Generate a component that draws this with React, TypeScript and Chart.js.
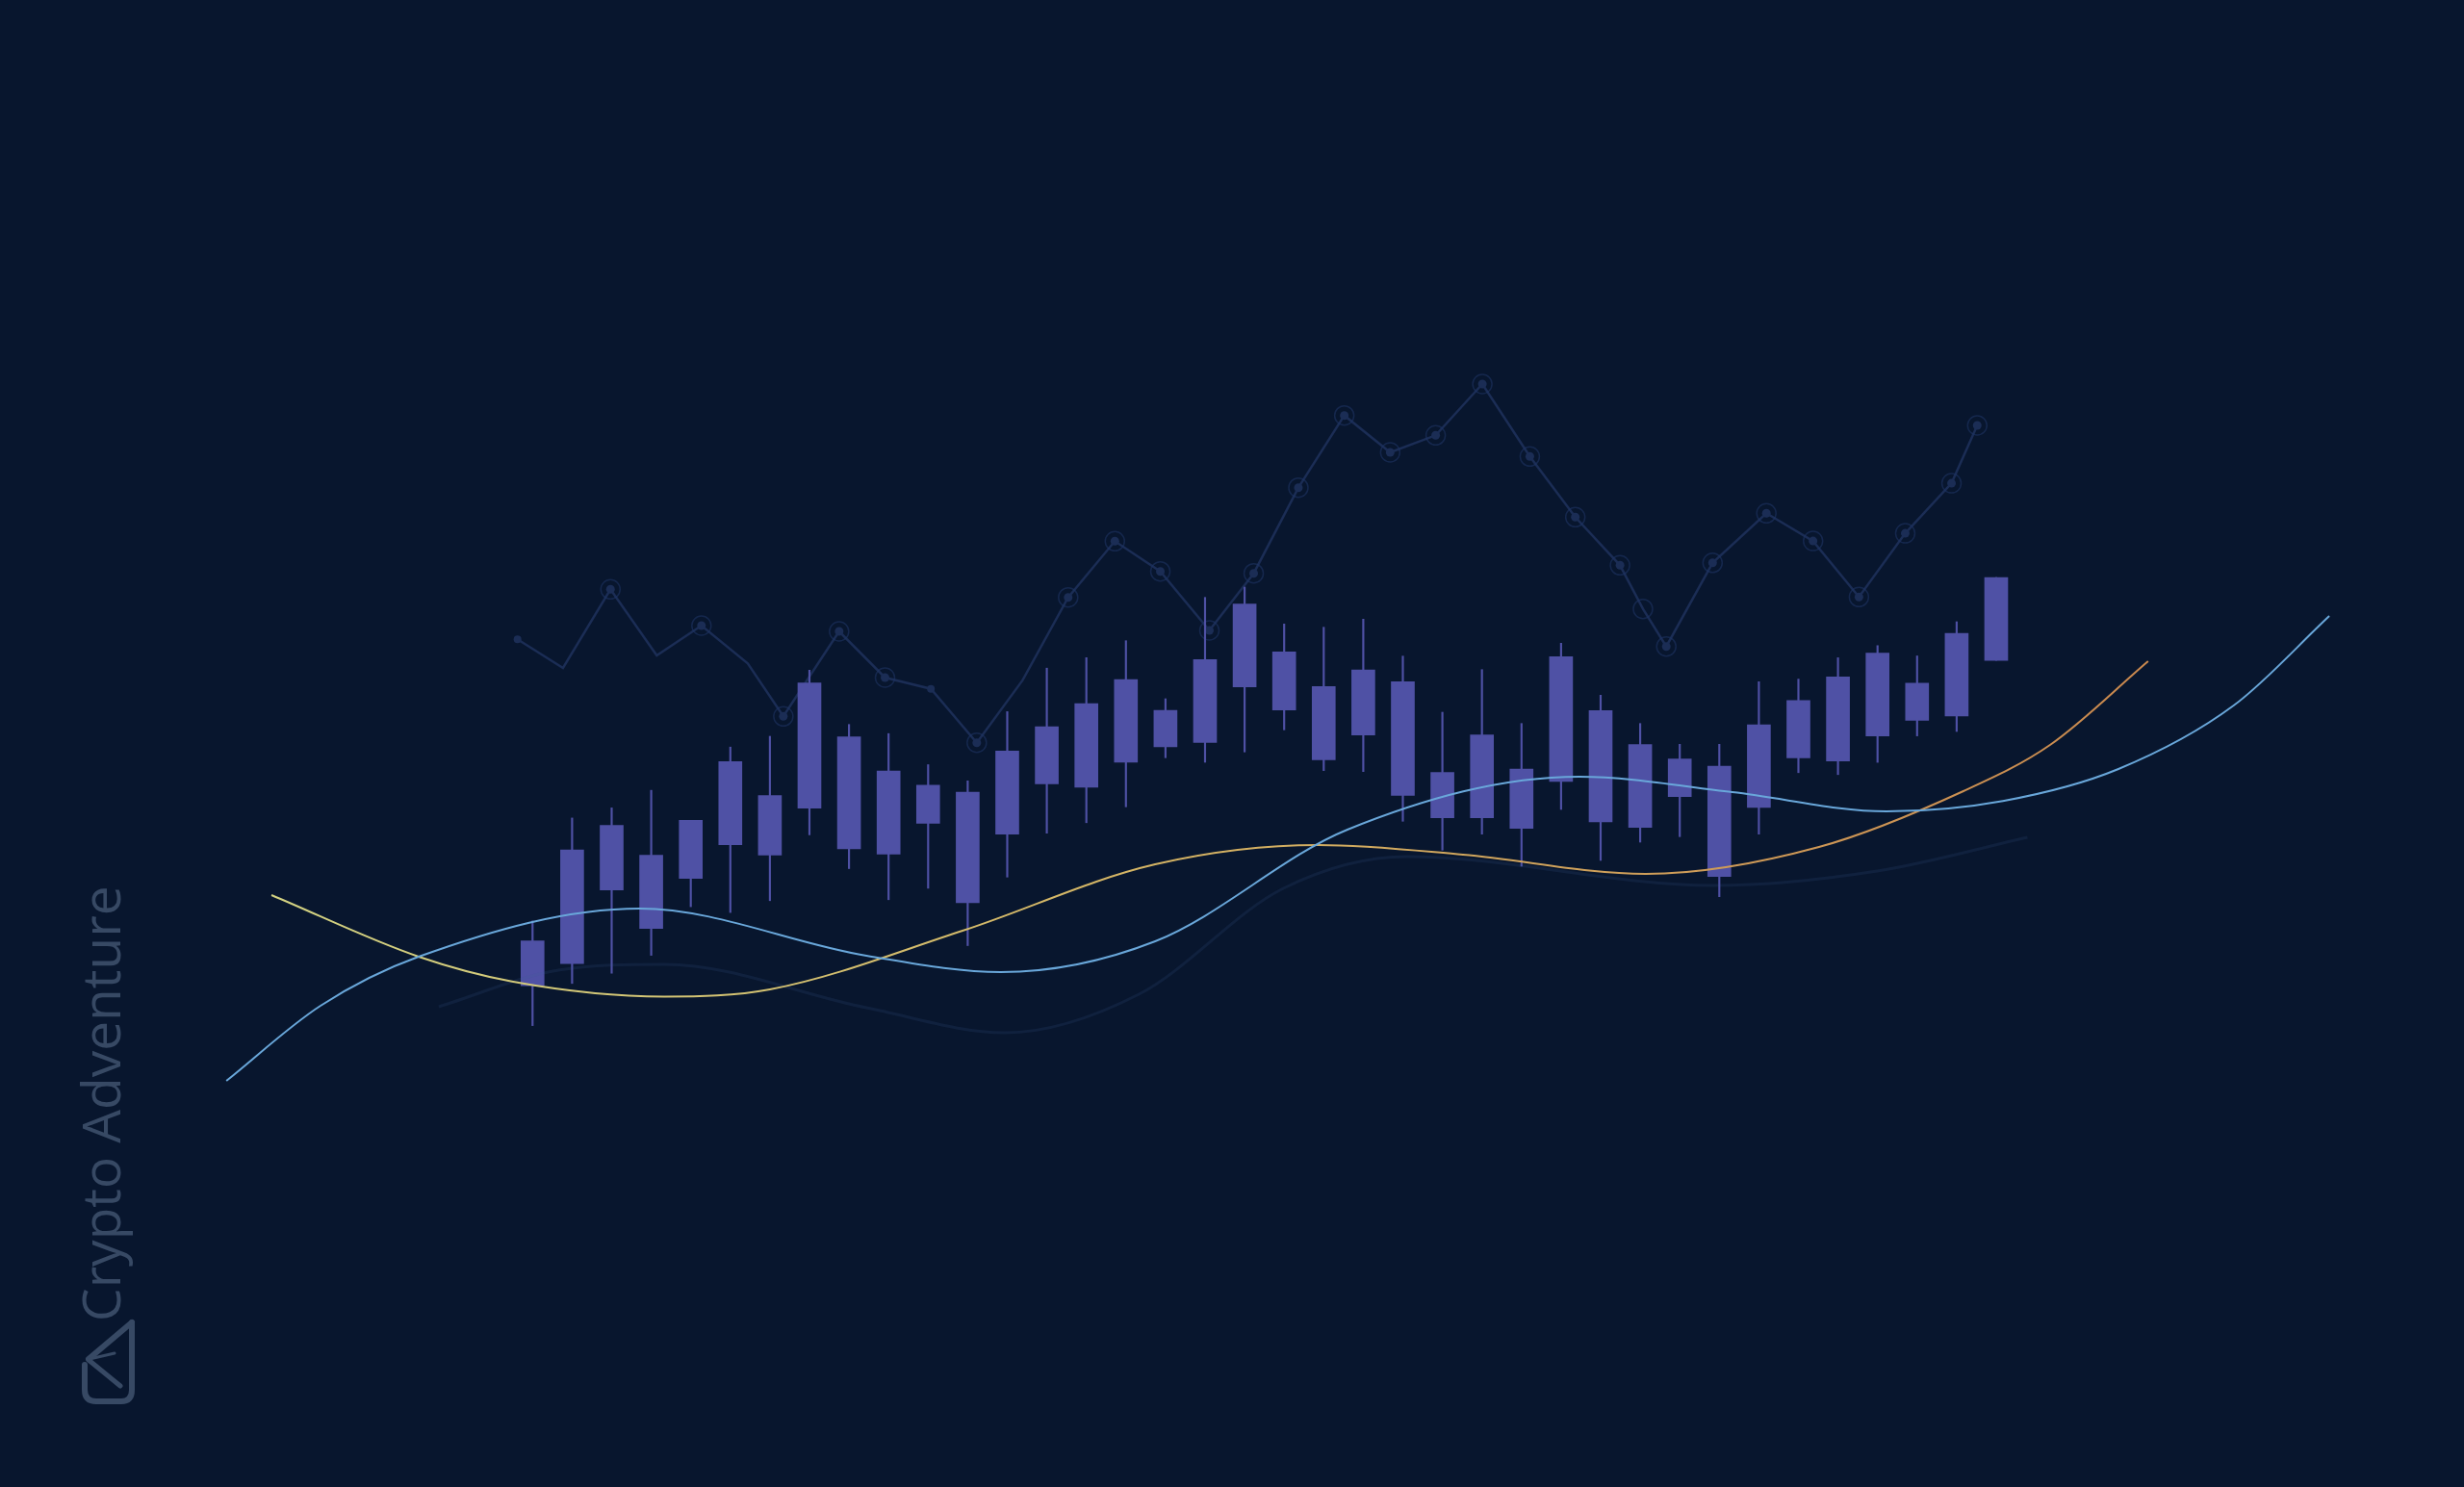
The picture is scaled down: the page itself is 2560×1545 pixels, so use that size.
import React, { useEffect, useRef } from 'react';
import { Chart, registerables } from 'chart.js';

Chart.register(...registerables);

// ---------- data ----------
// candle positions (trading-day index)
const days = [0, 1, 2, 3, 4, 5, 6, 7, 8, 9, 10, 11, 12, 13, 14, 15, 16, 17, 18, 19, 20, 21, 22, 23, 24, 25, 26, 27, 28, 29, 30, 31, 32, 33, 34, 35, 36, 37];
const opens = [52.08, 54.39, 62.04, 58.04, 63.23, 66.74, 65.65, 70.53, 66.32, 65.76, 68.95, 60.71, 67.83, 73.05, 72.7, 75.3, 76.9, 77.37, 83.13, 80.73, 75.57, 78.13, 71.87, 69.53, 69.53, 68.43, 73.3, 69.1, 68.53, 71.73, 63.43, 70.6, 75.75, 75.44, 78.04, 79.65, 80.11, 85.89];
const closes = [56.74, 66.18, 68.74, 65.65, 69.27, 75.37, 71.83, 83.54, 77.93, 74.39, 72.91, 72.18, 76.46, 78.98, 81.4, 83.89, 80.7, 85.97, 91.73, 86.77, 83.17, 84.9, 83.67, 74.23, 78.13, 74.6, 86.27, 80.67, 77.13, 75.63, 74.9, 79.2, 81.72, 84.17, 86.65, 83.51, 88.68, 94.5];
const highs = [58.81, 69.51, 70.56, 72.39, 69.27, 76.88, 78.0, 84.87, 79.23, 78.28, 75.05, 73.37, 80.56, 85.08, 86.17, 87.93, 81.9, 92.43, 93.5, 89.67, 89.33, 90.17, 86.33, 80.5, 84.93, 79.33, 87.67, 82.27, 79.33, 77.17, 77.17, 83.67, 83.94, 86.16, 87.42, 86.35, 89.9, 94.5];
const lows = [47.94, 52.32, 53.38, 55.24, 60.29, 59.69, 60.92, 67.76, 64.25, 61.02, 62.21, 56.25, 63.37, 67.93, 69.02, 70.67, 75.77, 75.3, 76.37, 78.67, 74.43, 74.33, 69.17, 66.17, 67.83, 64.5, 70.4, 65.1, 67.0, 67.57, 61.33, 67.83, 74.22, 74.02, 75.29, 78.04, 78.5, 85.89];

// dark trend line with markers
const trendX = [-0.38, 0.77, 1.97, 3.14, 4.27, 5.44, 6.34, 7.75, 8.91, 10.07, 11.23, 12.39, 13.54, 14.72, 15.87, 17.11, 18.23, 19.36, 20.52, 21.68, 22.83, 24.01, 25.21, 26.36, 27.49, 28.07, 28.66, 29.83, 31.19, 32.37, 33.53, 34.7, 35.87, 36.52];
const trendY = [88.07, 85.1, 93.27, 86.4, 89.5, 85.57, 80.07, 88.9, 84.1, 82.93, 77.33, 83.83, 92.43, 98.27, 95.13, 89.0, 94.93, 103.83, 111.33, 107.5, 109.27, 114.6, 107.07, 100.77, 95.77, 91.23, 87.33, 96.02, 101.17, 98.29, 92.47, 99.09, 104.29, 110.3];
// r = dot + ring, d = dot only, n = plain vertex, e = empty ring
const trendMarker = ['d', 'n', 'r', 'n', 'r', 'n', 'r', 'r', 'r', 'd', 'r', 'n', 'r', 'r', 'r', 'r', 'r', 'r', 'r', 'r', 'r', 'r', 'r', 'r', 'r', 'e', 'r', 'r', 'r', 'r', 'r', 'r', 'r', 'r'];

// moving-average style curves
const yellowX = [-6.6, -2.88, -0.49, 3.33, 6.0, 10.87, 15.74, 19.87, 23.52, 28.14, 32.52, 36.17, 38.36, 40.84];
const yellowY = [61.5, 55.1, 52.5, 50.95, 51.7, 57.8, 64.7, 66.7, 65.7, 63.7, 66.5, 72.3, 77.1, 85.8];
const blueX = [-7.74, -5.36, -2.88, 2.71, 8.44, 11.84, 15.74, 20.6, 26.46, 30.33, 34.23, 37.17, 40.09, 43.01, 45.42];
const blueY = [42.2, 50.0, 55.1, 60.1, 55.2, 53.5, 56.7, 68.3, 73.8, 72.2, 70.2, 71.28, 74.6, 81.22, 90.5];
const faintX = [-2.37, 0.65, 3.33, 8.44, 11.94, 15.33, 18.98, 22.11, 29.85, 33.99, 37.79];
const faintY = [49.9, 53.7, 54.3, 49.8, 47.2, 51.2, 62.2, 65.5, 62.5, 64.0, 67.5];

// ---------- view ----------
const X_MIN = -13.462;
const X_MAX = 48.825;
const Y_MIN = 0;
const Y_MAX = 154.5;

const BG = '#08162e';
const CANDLE = '#4f51a5';
const TREND = '#1b2d55';

const pts = (xs: number[], ys: number[]) => xs.map((x, i) => ({ x, y: ys[i] }));

export default function App() {
  const canvasRef = useRef<HTMLCanvasElement | null>(null);

  useEffect(() => {
    document.body.style.margin = '0';
    document.body.style.background = BG;
    const canvas = canvasRef.current;
    if (!canvas) return;

    const yellowGradient = (c: any) => {
      const chart = c.chart;
      const xs = chart.scales && chart.scales.x;
      if (!chart.chartArea || !xs) return '#cfb466';
      const x0 = xs.getPixelForValue(yellowX[0]);
      const x1 = xs.getPixelForValue(yellowX[yellowX.length - 1]);
      const g = chart.ctx.createLinearGradient(x0, 0, x1, 0);
      g.addColorStop(0, '#d2d282');
      g.addColorStop(0.45, '#d4b565');
      g.addColorStop(1, '#c9884e');
      return g;
    };

    const chart = new Chart(canvas, {
      type: 'bar',
      data: {
        datasets: [
          {
            type: 'line',
            data: pts(trendX, trendY),
            borderColor: TREND,
            borderWidth: 2.5,
            tension: 0,
            pointRadius: trendMarker.map((m) => (m === 'r' ? 4.5 : m === 'd' ? 4 : 0)),
            pointBackgroundColor: TREND,
            pointBorderWidth: 0,
            order: 10,
          } as any,
          {
            type: 'line',
            data: pts(trendX, trendY),
            showLine: false,
            pointRadius: trendMarker.map((m) => (m === 'r' || m === 'e' ? 10 : 0)),
            pointBackgroundColor: 'rgba(0,0,0,0)',
            pointBorderColor: 'rgba(30,52,98,0.6)',
            pointBorderWidth: 1.5,
            order: 9,
          } as any,
          {
            type: 'bar',
            data: days.map((d, i) => ({ x: d, y: [lows[i], highs[i]] })),
            backgroundColor: CANDLE,
            barThickness: 1.5,
            grouped: false,
            borderWidth: 0,
            order: 8,
          } as any,
          {
            type: 'bar',
            data: days.map((d, i) => ({ x: d, y: [opens[i], closes[i]] })),
            backgroundColor: CANDLE,
            barThickness: 24,
            grouped: false,
            borderWidth: 0,
            order: 7,
          } as any,
          {
            type: 'line',
            data: pts(faintX, faintY),
            borderColor: 'rgba(62,92,150,0.16)',
            borderWidth: 3,
            cubicInterpolationMode: 'monotone',
            pointRadius: 0,
            order: 3,
          } as any,
          {
            type: 'line',
            data: pts(yellowX, yellowY),
            borderColor: yellowGradient,
            borderWidth: 2,
            cubicInterpolationMode: 'monotone',
            pointRadius: 0,
            order: 2,
          } as any,
          {
            type: 'line',
            data: pts(blueX, blueY),
            borderColor: '#69a7da',
            borderWidth: 2,
            cubicInterpolationMode: 'monotone',
            pointRadius: 0,
            order: 1,
          } as any,
        ],
      },
      options: {
        animation: false,
        responsive: false,
        devicePixelRatio: 1,
        events: [],
        layout: { padding: 0, autoPadding: false },
        plugins: { legend: { display: false }, tooltip: { enabled: false } },
        scales: {
          x: { type: 'linear', min: X_MIN, max: X_MAX, display: false, offset: false },
          y: { type: 'linear', min: Y_MIN, max: Y_MAX, display: false },
        },
      } as any,
    });
    return () => chart.destroy();
  }, []);

  return (
    <div style={{ position: 'fixed', left: 0, top: 0, width: 2560, height: 1545, background: BG, overflow: 'hidden' }}>
      <canvas ref={canvasRef} width={2560} height={1545} style={{ position: 'absolute', left: 0, top: 0, width: 2560, height: 1545 }} />
      <div
        style={{
          position: 'absolute',
          left: 76,
          top: 1373,
          transform: 'rotate(-90deg)',
          transformOrigin: '0 0',
          fontFamily: '"Open Sans", sans-serif',
          fontSize: 55,
          lineHeight: '56px',
          color: '#374964',
          whiteSpace: 'nowrap',
        }}
      >
        Crypto Adventure
      </div>
      <svg style={{ position: 'absolute', left: 83, top: 1370 }} width={60} height={92} viewBox="0 0 60 92">
        <g fill="none" stroke="#374964" strokeLinecap="round" strokeLinejoin="round">
          <path d="M5 48 L5 74 Q5 86 17 86 L43 86 Q54 86 54 74 L54 4" strokeWidth={6} />
          <path d="M54 4 L9 42" strokeWidth={6} />
          <path d="M9 43 L42 70" strokeWidth={5} />
          <path d="M10 42 L36 36" strokeWidth={3} />
        </g>
      </svg>
    </div>
  );
}
